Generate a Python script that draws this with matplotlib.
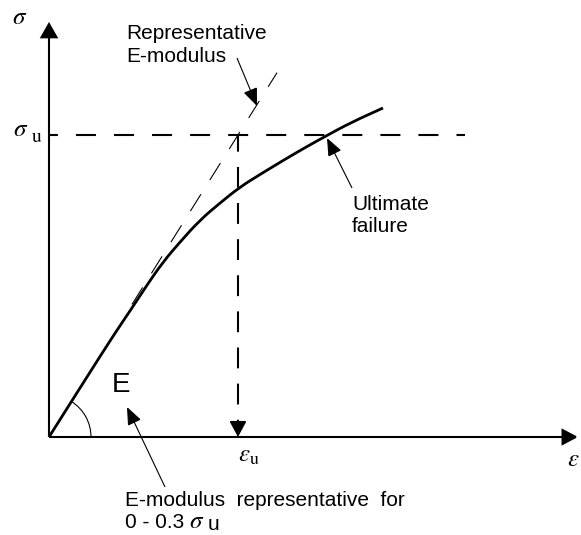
import matplotlib
matplotlib.use("Agg")
import matplotlib.pyplot as plt
from matplotlib.patches import FancyArrowPatch, Arc, PathPatch
from matplotlib.path import Path

plt.rcParams['font.family'] = ['Liberation Sans', 'DejaVu Sans']
plt.rcParams['mathtext.fontset'] = 'stix'
plt.rcParams['lines.scale_dashes'] = False

# stress-strain curve (schematic units, origin at 0,0)
curve_eps = [0, 36, 66, 83, 98, 114, 131, 151, 171, 191, 211, 234, 258, 277, 301, 334]
curve_sig = [0, 57, 104, 129, 152, 175, 195, 217, 234, 250, 262.5, 276.5, 290.5, 301, 314, 329]

eps_u = 189
sig_u = 302
eps_max = 529
sig_max = 415
hline_end = 416
tangent_eps = [83, 228]

fig = plt.figure(figsize=(5.81, 5.35), dpi=100)
ax = fig.add_axes([0, 0, 1, 1])
ax.set_xlim(-49, 532)
ax.set_ylim(-98, 437)
ax.axis('off')


def arrow(p0, p1, lw, hl, hw):
	a = FancyArrowPatch(p0, p1, arrowstyle=f'-|>,head_length={hl},head_width={hw}',
						mutation_scale=1, lw=lw, color='black', shrinkA=0, shrinkB=0,
						joinstyle='miter', capstyle='butt')
	ax.add_patch(a)


# axes with arrows
arrow((0, 0), (0, sig_max), 1.5, 9.5, 5.4)
arrow((0, 0), (eps_max, 0), 1.5, 9.5, 5.0)

# curve, drawn as a smooth quadratic path through the read points
pts = list(zip(curve_eps, curve_sig))
verts = [pts[0]]
codes = [Path.MOVETO]
for i in range(1, len(pts) - 1):
	mid = ((pts[i][0] + pts[i + 1][0]) / 2, (pts[i][1] + pts[i + 1][1]) / 2)
	verts += [pts[i], mid]
	codes += [Path.CURVE3, Path.CURVE3]
verts.append(pts[-1])
codes.append(Path.LINETO)
ax.add_patch(PathPatch(Path(verts, codes), facecolor='none', edgecolor='black', lw=2.0,
					   capstyle='butt'))

# representative modulus (secant through ultimate point)
slope = sig_u / eps_u
ax.plot(tangent_eps, [slope * e for e in tangent_eps], color='black', lw=0.8,
		linestyle=(0, (14.4, 12)))

# ultimate stress / strain
ax.plot([0, hline_end], [sig_u, sig_u], color='black', lw=1.5, linestyle=(8, (14.4, 13)))
ax.plot([eps_u, eps_u], [sig_u, 16], color='black', lw=1.5, linestyle=(3, (15, 11)))
arrow((eps_u, 16), (eps_u, 0), 1.0, 10, 5.4)

# angle arc
ax.add_patch(Arc((0, 0), 84, 84, theta1=0, theta2=57.7, lw=0.8, color='black'))

# axis labels
ax.text(-29, 420, r'$\sigma$', fontsize=18, ha='center', va='center')
ax.text(-36, 301, r'$\sigma$', fontsize=18, ha='left', va='baseline')
ax.text(-17, 295, 'u', fontsize=14, family='STIXGeneral', ha='left', va='baseline')
ax.text(eps_u, -6, r'$\varepsilon_{\mathrm{u}}$', fontsize=18, ha='left', va='top')
ax.text(524, -22, r'$\varepsilon$', fontsize=18, ha='center', va='center')
ax.text(72, 52, 'E', fontsize=20, ha='center', va='center')

# annotations
fs = 15
ax.text(77, 398, 'Representative', fontsize=fs, ha='left', va='baseline')
ax.text(77, 375, 'E-modulus', fontsize=fs, ha='left', va='baseline')
ax.text(303, 227, 'Ultimate', fontsize=fs, ha='left', va='baseline')
ax.text(303, 205, 'failure', fontsize=fs, ha='left', va='baseline')
ax.text(76, -69, 'E-modulus  representative  for', fontsize=fs, ha='left', va='baseline')
ax.text(76, -91, '0 - 0.3', fontsize=fs, ha='left', va='baseline')
ax.text(140, -91, 'σ', fontsize=18, family='STIXGeneral', style='italic', ha='left', va='baseline')
ax.text(159, -93, 'u', fontsize=fs, ha='left', va='baseline')

arrow((188, 379), (208, 331), 0.8, 11, 4.5)
arrow((303, 249), (278, 299), 0.8, 11, 4.5)
arrow((116, -50), (78, 30), 0.8, 11, 4.5)

fig.savefig('out.png', dpi=100)
